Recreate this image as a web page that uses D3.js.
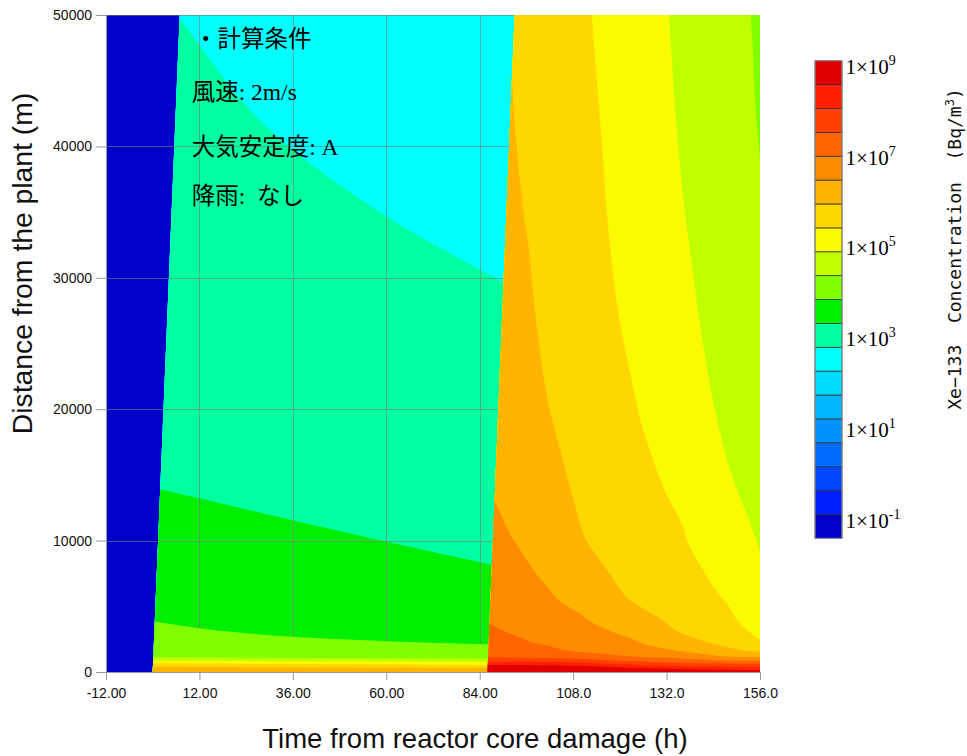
<!DOCTYPE html>
<html><head><meta charset="utf-8">
<script src="https://cdn.jsdelivr.net/npm/d3@7"></script>
<style>body{margin:0;background:#fff} svg{display:block}</style>
</head><body>
<svg id="chart" width="967" height="756"></svg>
<script>
// ---------- DATA ----------
// Distance from the plant (m) – grid rows
const distances = [0,150,300,500,700,900,1200,1600,2200,3000,4000,5500,7500,10000,14000,20000,27000,35000,42000,50000];
// Release time of the air parcel (h); a parcel released at tau arrives at distance d at tau + d / wind speed
const releaseTimes = [-19,-0.01,0,85.99,86,92,100,110,122,135,147,157];
const windSpeed = 2; // m/s  (計算条件: 風速 2m/s)
// log10 Xe-133 concentration (Bq/m3), one array per release time, values along distances
const beforeRelease = [-1.5,-1.5,-1.5,-1.5,-1.5,-1.5,-1.5,-1.5,-1.5,-1.5,-1.5,-1.5,-1.5,-1.5,-1.5,-1.5,-1.5,-1.5,-1.5,-1.5];
const phase1Start = [6.5,6.4,6.25,5.95,5.48,4.96,4.35,4.22,4.12,4.05,3.99,3.88,3.75,3.62,3.47,3.33,3.2,3.09,3.01,2.945];
const phase1End   = [6.4,6.3,6.1,5.65,5.3,4.7,4.3,4.12,3.98,3.85,3.74,3.6,3.5,3.4,3.27,3.13,2.99,2.86,2.76,2.66];
const tau86  = [9.3,9.2,9.05,8.8,8.38,7.97,7.58,7.45,7.33,7.22,7.13,7.0,6.86,6.73,6.6,6.45,6.32,6.2,6.13,6.07];
const tau92  = [9.28,9.18,9.03,8.79,8.36,7.95,7.56,7.39,7.25,7.14,7.0,6.86,6.74,6.62,6.48,6.32,6.18,6.07,5.99,5.92];
const tau100 = [9.25,9.15,9.0,8.78,8.33,7.91,7.5,7.3,7.12,6.99,6.86,6.7,6.58,6.45,6.27,6.08,5.95,5.84,5.76,5.69];
const tau110 = [9.2,9.1,8.96,8.7,8.23,7.84,7.43,7.09,6.93,6.8,6.66,6.5,6.3,6.105,5.96,5.83,5.71,5.62,5.56,5.5];
const tau122 = [9.15,9.02,8.8,8.35,7.93,7.57,7.16,6.93,6.72,6.55,6.35,6.09,5.93,5.81,5.68,5.575,5.45,5.34,5.25,5.16];
const tau135 = [9.05,8.9,8.6,8.12,7.68,7.33,6.98,6.63,6.36,6.1,5.96,5.83,5.72,5.6,5.5,5.32,5.1,4.96,4.86,4.78];
const tau147 = [8.95,8.78,8.45,7.99,7.55,7.12,6.61,6.24,5.97,5.8,5.67,5.55,5.43,5.3,5.08,4.835,4.73,4.66,4.58,4.52];
const tau157 = [8.85,8.74,8.39,7.95,7.5,7.05,6.48,5.99,5.58,5.43,5.3,5.17,5.04,4.93,4.8,4.64,4.5,4.42,4.34,4.25];
const logConc = [beforeRelease, beforeRelease, phase1Start, phase1End, tau86, tau92, tau100, tau110, tau122, tau135, tau147, tau157];
const releaseFronts = [0, 86]; // h, start of each release phase

// colour levels (bottom to top of the colour bar)
const levelColors = ["#0000c8","#0020ff","#0046ff","#006cff","#0092ff","#00b6ff","#00dcff","#00ffff","#00ffa0","#00ee00",
                     "#80ff00","#c0ff00","#fafa00","#ffd700","#ffb400","#ff8c00","#ff6600","#ff4000","#ff2000","#e00000"];
const cbLabelExponents = [-1,1,3,5,7,9];
const xTicks = [-12,12,36,60,84,108,132,156];
const yTicks = [0,10000,20000,30000,40000,50000];
const conditionLines = ["・計算条件","風速: 2m/s","大気安定度: A","降雨:  なし"];
const xTitle = "Time from reactor core damage (h)";
const yTitle = "Distance from the plant (m)";

// ---------- DRAWING ----------
const svg = d3.select("#chart");
const L = 106, R = 760, T = 15, B = 672;
const x = d3.scaleLinear().domain([-12,156]).range([L,R]);
const y = d3.scaleLinear().domain([0,50000]).range([B,T]);

const nLev = levelColors.length;
const levelOf = d3.scaleLinear().domain([0, nLev-1]).range([-1, 9]);
const thresholds = d3.range(nLev).map(k => k === 0 ? -10 : levelOf(k - 0.5));

const n = releaseTimes.length, m = distances.length;
const values = new Array(n*m);
for (let j = 0; j < m; j++) for (let i = 0; i < n; i++) values[j*n + i] = logConc[i][j];

const idxTau = d3.scaleLinear().domain(d3.range(n)).range(releaseTimes).clamp(true);
const idxDist = d3.scaleLinear().domain(d3.range(m)).range(distances).clamp(true);
function toPoint(p){
  const tau = idxTau(p[0] - 0.5), d = idxDist(p[1] - 0.5);
  const t = tau + d / windSpeed / 3600;
  const onEdge = p[0] <= 0.5 || p[0] >= n - 0.5 || p[1] <= 0.5 || p[1] >= m - 0.5;
  const onFront = releaseFronts.some(f => tau >= f - 0.0101 && tau <= f + 0.0001);
  return {q: [x(t), y(d)], corner: onEdge || onFront};
}
const f2 = v => v.toFixed(2);
function ringPath(r){
  const pts = [];
  r.slice(0, -1).forEach(p => {
    const o = toPoint(p);
    const last = pts[pts.length-1];
    if (last && Math.hypot(last.q[0]-o.q[0], last.q[1]-o.q[1]) < 0.05) { last.corner = last.corner || o.corner; }
    else pts.push(o);
  });
  const N = pts.length;
  if (N < 3) return "";
  pts.forEach((o, i) => {
    if (o.corner) return;
    const a = pts[(i-1+N)%N].q, b = o.q, c = pts[(i+1)%N].q;
    const l1 = Math.hypot(b[0]-a[0], b[1]-a[1]), l2 = Math.hypot(c[0]-b[0], c[1]-b[1]);
    const tx = (b[0]-a[0])/l1 + (c[0]-b[0])/l2, ty = (b[1]-a[1])/l1 + (c[1]-b[1])/l2;
    const tl = Math.hypot(tx, ty);
    if (tl < 0.3) { o.corner = true; return; }
    o.t = [tx/tl, ty/tl];
  });
  let s = "M" + f2(pts[0].q[0]) + "," + f2(pts[0].q[1]);
  for (let i = 0; i < N; i++) {
    const A = pts[i], Bp = pts[(i+1)%N];
    const dx = Bp.q[0]-A.q[0], dy = Bp.q[1]-A.q[1], len = Math.hypot(dx, dy);
    const c1 = A.corner ? [A.q[0]+dx/3, A.q[1]+dy/3] : [A.q[0]+A.t[0]*len/3, A.q[1]+A.t[1]*len/3];
    const c2 = Bp.corner ? [Bp.q[0]-dx/3, Bp.q[1]-dy/3] : [Bp.q[0]-Bp.t[0]*len/3, Bp.q[1]-Bp.t[1]*len/3];
    s += "C" + [c1, c2, Bp.q].map(p => f2(p[0]) + "," + f2(p[1])).join(" ");
  }
  return s + "Z";
}

const contours = d3.contours().size([n, m]).thresholds(thresholds)(values);

svg.append("defs").append("clipPath").attr("id","plotclip")
  .append("rect").attr("x",L).attr("y",T).attr("width",R-L).attr("height",B-T);
const plot = svg.append("g").attr("clip-path","url(#plotclip)");

function drawLevel(k){
  const c = contours[k];
  plot.append("path")
    .attr("d", c.coordinates.map(poly => poly.map(ringPath).join("")).join(""))
    .attr("fill", levelColors[k]).attr("fill-rule","evenodd");
}
for (let k = 0; k < 10; k++) drawLevel(k);

// grid lines (lie under the higher levels)
const grid = plot.append("g").attr("stroke","#7a7a7a").attr("stroke-opacity",0.6).attr("stroke-width",1);
grid.selectAll("line.v").data(xTicks.slice(1,-1)).join("line")
  .attr("x1", d => Math.round(x(d))+0.5).attr("x2", d => Math.round(x(d))+0.5).attr("y1",T).attr("y2",B);
grid.selectAll("line.h").data(yTicks.slice(1)).join("line")
  .attr("y1", d => Math.round(y(d))+0.5).attr("y2", d => Math.round(y(d))+0.5).attr("x1",L).attr("x2",R);

for (let k = 10; k < nLev; k++) drawLevel(k);

// axes
const fmtLocale = d3.formatLocale({decimal:".", thousands:",", grouping:[3], currency:["",""], minus:"-"});
const fx = fmtLocale.format(".4r");
const xa = svg.append("g").attr("transform",`translate(0,${B})`)
  .call(d3.axisBottom(x).tickValues(xTicks).tickFormat(fx).tickSize(8).tickSizeOuter(0).tickPadding(8));
const ya = svg.append("g").attr("transform",`translate(${L},0)`)
  .call(d3.axisLeft(y).tickValues(yTicks).tickFormat(d3.format("d")).tickSize(10).tickSizeOuter(0).tickPadding(4));
[xa, ya].forEach(a => {
  a.select(".domain").attr("stroke","#999");
  a.selectAll(".tick line").attr("stroke","#999");
  a.selectAll(".tick text").attr("fill","#111").style("font-family","'Liberation Sans', Arial, sans-serif").style("font-size","14px");
});

// axis titles
svg.append("text").attr("x",475).attr("y",748).attr("text-anchor","middle")
  .style("font-family","'Liberation Sans', Arial, sans-serif").style("font-size","27.5px").attr("fill","#111").text(xTitle);
svg.append("text").attr("transform","translate(31.5,263.5) rotate(-90)").attr("text-anchor","middle")
  .style("font-family","'Liberation Sans', Arial, sans-serif").style("font-size","28.3px").attr("fill","#111").text(yTitle);

// annotation
const annY = [47.3, 99.7, 154.5, 203.5];
const annX = [194, 191.7, 191.7, 191.7];
svg.append("g").selectAll("text").data(conditionLines).join("text")
  .attr("x", (d,i) => annX[i]).attr("y", (d,i) => annY[i])
  .style("font-family","'Liberation Serif', 'Noto Sans CJK JP', serif").style("font-size","23.5px")
  .style("white-space","pre").attr("fill","#000").text(d => d);

// colour bar
const cbX = 815, cbW = 27;
const cb = d3.scaleLinear().domain([0, nLev]).range([538.3, 60.7]);
const cbg = svg.append("g");
cbg.selectAll("rect").data(levelColors).join("rect")
  .attr("x", cbX).attr("width", cbW)
  .attr("y", (d,k) => cb(k+1)).attr("height", (d,k) => cb(k) - cb(k+1))
  .attr("fill", d => d).attr("stroke","#333").attr("stroke-width",0.8);
cbg.append("rect").attr("x",cbX).attr("y",cb(nLev)).attr("width",cbW).attr("height",cb(0)-cb(nLev))
  .attr("fill","none").attr("stroke","#999").attr("stroke-width",1);
const lab = cbg.selectAll("text").data(cbLabelExponents).join("text")
  .attr("x", 845.5)
  .attr("y", e => cb(levelOf.invert(e) + 0.5) + 1.2)
  .style("font-family","'Liberation Serif', 'Times New Roman', serif").style("font-size","21px").attr("fill","#000");
lab.append("tspan").text("1×10");
lab.append("tspan").attr("dy",-9).style("font-size","14px").text(e => e);

// colour bar title
const ct = svg.append("text").attr("transform","translate(961,249) rotate(-90)").attr("text-anchor","middle")
  .style("font-family","'DejaVu Sans Mono', monospace").style("font-size","18px").style("white-space","pre").attr("fill","#111");
ct.append("tspan").text("Xe\u2212133  Concentration  (Bq/m");
ct.append("tspan").attr("dy",-7).style("font-size","12px").text("3");
ct.append("tspan").attr("dy",7).text(")");
</script>
</body></html>
